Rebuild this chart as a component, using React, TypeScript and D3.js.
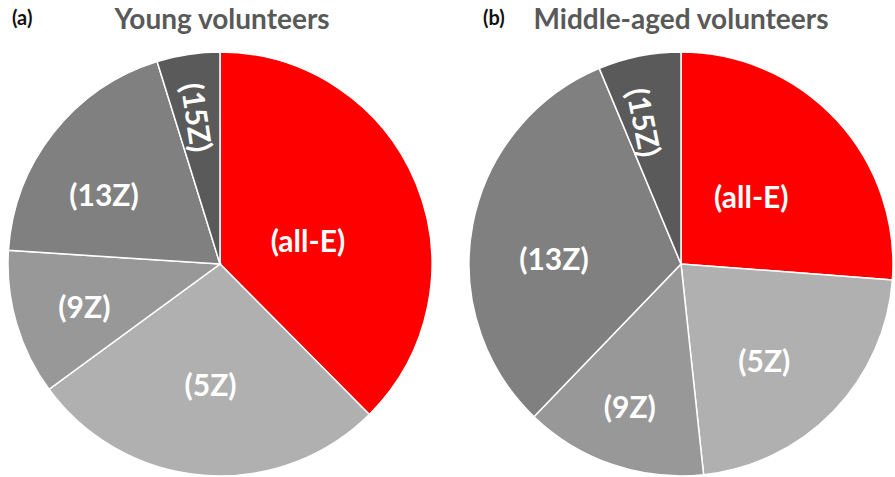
import * as d3 from "d3";

// slices, clockwise from 12 o'clock
const categories = ["(all-E)", "(5Z)", "(9Z)", "(13Z)", "(15Z)"];
const youngValues = [37.6, 27.4, 11.1, 19.2, 4.8];
const middleValues = [26.2, 22.1, 13.9, 31.5, 6.3];
const sliceColors = ["#ff0000", "#b0b0b0", "#989898", "#808080", "#5a5a5a"];

const width = 895;
const height = 477;
const radius = 212;
const font = "Lato, 'Open Sans', sans-serif";

type PieProps = {
  cx: number;
  cy: number;
  values: number[];
  tag: string;
  title: string;
  tagX: number;
  titleX: number;
  labelR: number[]; // label distance as fraction of radius
  labelShift: number[]; // nudge from mid angle, degrees
};

function Pie({ cx, cy, values, tag, title, tagX, titleX, labelR, labelShift }: PieProps) {
  const pie = d3.pie<number>().sort(null).value(d => d);
  const arcs = pie(values);
  const arc = d3.arc<d3.PieArcDatum<number>>().innerRadius(0).outerRadius(radius);

  return (
    <g>
      {/* panel tag + title */}
      <text x={tagX} y={25} fontSize="20" fontWeight="700" fill="#111" fontFamily={font}>
        {tag}
      </text>
      <text
        x={titleX}
        y={29}
        textAnchor="middle"
        fontSize="28"
        fontWeight="700"
        fill="#595959"
        fontFamily={font}
      >
        {title}
      </text>

      <g transform={`translate(${cx},${cy})`}>
        {arcs.map((a, i) => (
          <path key={i} d={arc(a) ?? ""} fill={sliceColors[i]} stroke="#fff" strokeWidth={1.5} />
        ))}
        {arcs.map((a, i) => {
          const mid = (a.startAngle + a.endAngle) / 2;
          const ang = mid + (labelShift[i] * Math.PI) / 180;
          const r = radius * labelR[i];
          const x = Math.sin(ang) * r;
          const y = -Math.cos(ang) * r;
          // thin top slice gets radial text
          const rot = i === 4 ? (mid * 180) / Math.PI - 270 : 0;
          return (
            <text
              key={i}
              transform={`translate(${x},${y}) rotate(${rot})`}
              textAnchor="middle"
              dominantBaseline="central"
              fontSize="30"
              fontWeight="700"
              fill="#fff"
              fontFamily={font}
            >
              {categories[i]}
            </text>
          );
        })}
      </g>
    </g>
  );
}

export default function App() {
  return (
    <svg
      width={width}
      height={height}
      style={{ position: "absolute", left: 0, top: 0, background: "#fff" }}
    >
      <Pie
        cx={220}
        cy={264}
        values={youngValues}
        tag="(a)"
        title="Young volunteers"
        tagX={12}
        titleX={222}
        labelR={[0.43, 0.57, 0.67, 0.64, 0.7]}
        labelShift={[7, 0, -1, -7, 0]}
      />
      <Pie
        cx={681}
        cy={264}
        values={middleValues}
        tag="(b)"
        title="Middle-aged volunteers"
        tagX={483}
        titleX={681}
        labelR={[0.46, 0.6, 0.71, 0.6, 0.69]}
        labelShift={[-1, 5, 1, -8, -3]}
      />
    </svg>
  );
}
